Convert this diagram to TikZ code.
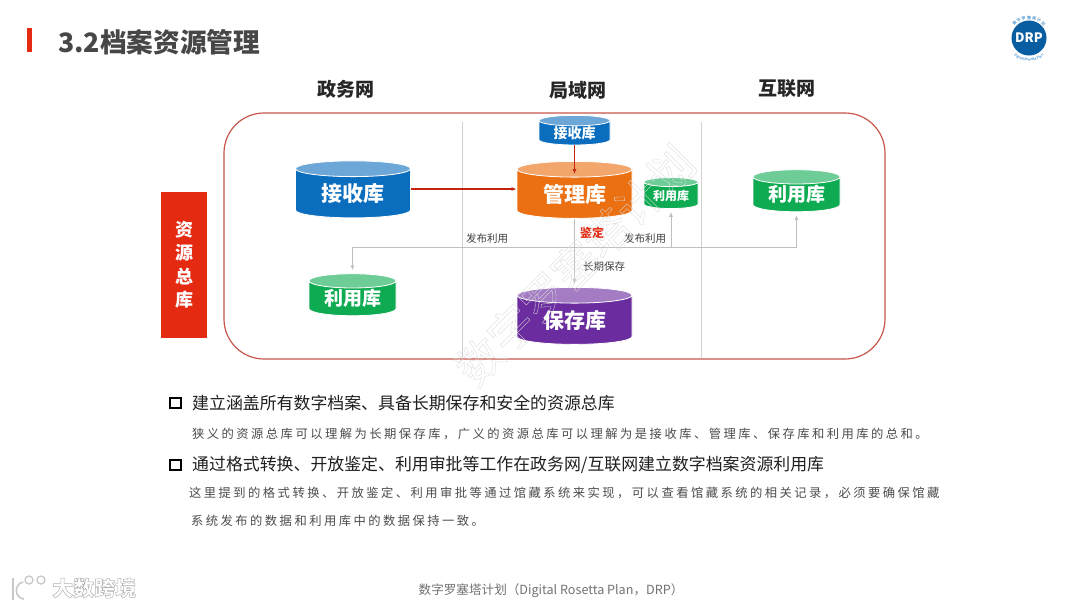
\documentclass[tikz,border=0pt]{standalone}
\usepackage{fontspec}
\setmainfont{Noto Sans CJK SC}
\newfontfamily\notefont[LetterSpace=20]{Noto Sans CJK SC}
\definecolor{DRPred}{HTML}{E52A12}
\definecolor{DRPframe}{HTML}{C9564C}
\definecolor{DRPblue}{HTML}{0B6DBE}
\definecolor{DRPorange}{HTML}{EB7012}
\definecolor{DRPgreen}{HTML}{0EAB52}
\definecolor{DRPpurple}{HTML}{6A2C9E}
\newcommand{\hollow}[2][0.5]{\special{pdf:code 1 Tr #1 w}#2\special{pdf:code 0 Tr}}
\usetikzlibrary{arrows.meta,shapes.geometric,decorations.text}

\begin{document}
\begin{tikzpicture}[x=1pt,y=-1pt,>={Latex[length=5pt,width=4pt]},
  dbase/.style={cylinder,shape border rotate=90,shape aspect=.25,draw=white,thick,cylinder uses custom fill,text=white,inner sep=0pt,font=\bfseries},
  header/.style={font=\bfseries\fontsize{19}{19}\selectfont,text=black!85},
  heading/.style={anchor=west,font=\fontsize{16.9}{17}\selectfont,text=black!88,inner sep=0pt},
  note/.style={anchor=west,font=\notefont\fontsize{12.3}{13}\selectfont,text=black!70,inner sep=0pt},
  tag/.style={font=\fontsize{10.5}{11}\selectfont,text=black!75,inner sep=0pt},
  flow/.style={->,line width=1.5pt,draw=DRPred!85!black},
  release/.style={->,draw=black!25,line width=.9pt,shorten >=3pt},
  tick/.style={draw=black,line width=1.8pt,minimum size=10.5pt,inner sep=0pt}]
  \useasboundingbox (0,0) rectangle (1080,608);
  \fill[white] (0,0) rectangle (1080,608);

  \fill[DRPred] (27,28) rectangle (32,52);
  \node[anchor=west,inner sep=0pt,font=\bfseries\fontsize{26.7}{28}\selectfont,text=black!72] (title) at (58,42) {3.2档案资源管理};
  \node[circle,fill=DRPblue!85!black,minimum size=35pt,inner sep=0pt,text=white,font=\bfseries\fontsize{13}{13}\selectfont] (logo) at (1029,38) {DRP};
  \path[decorate,decoration={text along path,text align=center,text={|\fontsize{4}{4}\selectfont\color{DRPblue}|数 字 罗 塞 塔 计 划}}] (1010,38) arc[start angle=180,end angle=360,radius=19];
  \path[decorate,decoration={text along path,text align=center,text={|\fontsize{3.5}{4}\selectfont\color{DRPblue}|Digital Rosetta Plan}}] (1006,38) arc[start angle=180,end angle=0,radius=23];

  \node[header] (gov) at (346,89) {政务网};
  \node[header] (lan) at (578,90) {局域网};
  \node[header] (web) at (787,89) {互联网};

  \draw[DRPframe,line width=1.2pt,rounded corners=40pt] (224,113) rectangle (885,359);
  \node[fill=DRPred,minimum width=46pt,minimum height=146pt,inner sep=0pt,text=white,align=center,font=\bfseries\fontsize{18}{23.5}\selectfont] (pool) at (184,265) {资\\源\\总\\库};
  \draw[black!18] (462,122) -- (462,358);
  \draw[black!18] (701,122) -- (701,358);

  \node[dbase,minimum width=115pt,minimum height=57pt,cylinder body fill=DRPblue,cylinder end fill=DRPblue!60,font=\bfseries\fontsize{21}{21}\selectfont] (recvA) at (353,193.5) {接收库};
  \node[dbase,minimum width=115pt,minimum height=57pt,cylinder body fill=DRPorange,cylinder end fill=DRPorange!62,font=\bfseries\fontsize{21}{21}\selectfont] (mgmt) at (574.5,194) {管理库};
  \node[dbase,minimum width=71pt,minimum height=29pt,cylinder body fill=DRPblue,cylinder end fill=DRPblue!60,font=\bfseries\fontsize{14}{14}\selectfont] (recvB) at (574.5,133) {接收库};
  \node[dbase,minimum width=54pt,minimum height=31pt,cylinder body fill=DRPgreen,cylinder end fill=DRPgreen!60,font=\bfseries\fontsize{12}{12}\selectfont] (useB) at (671,195.5) {利用库};
  \node[dbase,minimum width=87pt,minimum height=42pt,cylinder body fill=DRPgreen,cylinder end fill=DRPgreen!60,font=\bfseries\fontsize{19}{19}\selectfont] (useC) at (796.5,194.5) {利用库};
  \node[dbase,minimum width=87pt,minimum height=42pt,cylinder body fill=DRPgreen,cylinder end fill=DRPgreen!60,font=\bfseries\fontsize{19}{19}\selectfont] (useA) at (352.5,298.5) {利用库};
  \node[dbase,minimum width=115pt,minimum height=57pt,cylinder body fill=DRPpurple,cylinder end fill=DRPpurple!62,font=\bfseries\fontsize{21}{21}\selectfont] (store) at (574.5,320) {保存库};

  \coordinate (mgmtin) at (574.5,174);
  \coordinate (hub) at (574.5,247);
  \draw[flow] (recvA.east |- 0,189) -- (mgmt.west |- 0,189);
  \draw[flow] (recvB.bottom) -- (mgmtin);
  \draw[release] (mgmt.bottom) -- (store.top);
  \draw[release] (hub) -| (useA.top);
  \draw[release] (hub) -| (useB.bottom);
  \draw[release] (hub) -| (useC.bottom);

  \node[tag] (pubA) at (487,239) {发布利用};
  \node[tag] (pubB) at (645,239) {发布利用};
  \node[tag] (keep) at (604,267) {长期保存};
  \node[font=\bfseries\fontsize{12}{12}\selectfont,text=DRPred,inner sep=0pt] (check) at (592,233) {鉴定};

  \node[rotate=45,text=black!14,font=\fontsize{45}{45}\selectfont,inner sep=0pt] (mark) at (575,265) {\hollow[0.35]{数字罗塞塔计划}};

  \node[tick] (boxA) at (175.5,403) {};
  \node[heading] (lineA) at (192,403) {建立涵盖所有数字档案、具备长期保存和安全的资源总库};
  \node[note] (noteA) at (192,434) {狭义的资源总库可以理解为长期保存库，广义的资源总库可以理解为是接收库、管理库、保存库和利用库的总和。};
  \node[tick] (boxB) at (175.5,465) {};
  \node[heading] (lineB) at (192,465) {通过格式转换、开放鉴定、利用审批等工作在政务网/互联网建立数字档案资源利用库};
  \node[note] (noteB) at (189,493) {这里提到的格式转换、开放鉴定、利用审批等通过馆藏系统来实现，可以查看馆藏系统的相关记录，必须要确保馆藏};
  \node[note] (noteC) at (191,521) {系统发布的数据和利用库中的数据保持一致。};

  \node[font=\fontsize{12.6}{13}\selectfont,text=black!55,inner sep=0pt] (foot) at (551,591) {数字罗塞塔计划（Digital Rosetta Plan，DRP）};
  \draw[black!22,line width=1.6pt] (13,578) -- (13,600);
  \draw[black!22,line width=1.6pt] (23,582) .. controls (14,584) and (14,598) .. (24,599);
  \draw[black!22,line width=1.3pt] (29,580) circle[radius=4];
  \draw[black!22,line width=1.3pt] (41,580) circle[radius=4];
  \node[anchor=west,font=\bfseries\fontsize{21}{21}\selectfont,text=black!30,inner sep=0pt] (brand) at (52,588) {\hollow{大数跨境}};
\end{tikzpicture}
\end{document}
